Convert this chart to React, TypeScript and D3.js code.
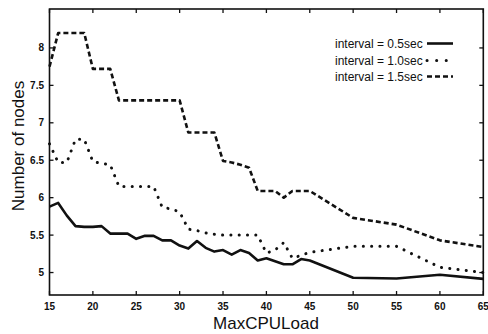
import React from "react";
import * as d3 from "d3";

const maxCpuLoad = [15,16,17,18,19,20,21,22,23,24,25,26,27,28,29,30,31,32,33,34,35,36,37,38,39,40,41,42,43,44,45,50,55,60,65];
const interval05 = [5.88,5.93,5.76,5.62,5.61,5.61,5.62,5.52,5.52,5.52,5.45,5.49,5.49,5.43,5.43,5.36,5.32,5.42,5.33,5.28,5.30,5.24,5.30,5.26,5.16,5.19,5.15,5.11,5.11,5.18,5.16,4.93,4.92,4.97,4.915];
const interval10 = [6.72,6.47,6.47,6.78,6.78,6.48,6.46,6.44,6.15,6.15,6.15,6.15,6.15,5.87,5.85,5.81,5.58,5.56,5.53,5.51,5.50,5.50,5.50,5.50,5.50,5.26,5.30,5.40,5.19,5.23,5.27,5.35,5.35,5.07,5.00];
const interval15 = [7.75,8.20,8.20,8.20,8.20,7.72,7.72,7.72,7.30,7.30,7.30,7.30,7.30,7.30,7.30,7.30,6.87,6.87,6.87,6.87,6.49,6.47,6.44,6.40,6.09,6.09,6.09,6.00,6.09,6.09,6.09,5.73,5.64,5.43,5.34];
const xTicks = [15,20,25,30,35,40,45,50,55,60,65];
const yTicks = [5,5.5,6,6.5,7,7.5,8];
const seriesLabels = ["interval = 0.5sec","interval = 1.0sec","interval = 1.5sec"];

const W = 488, H = 334;
const left = 49.5, right = 483.3, top = 9, bottom = 295;

export default function App() {
  const x = d3.scaleLinear().domain([15, 65]).range([left, right]);
  const y = d3.scaleLinear().domain([4.7, 8.52]).range([bottom, top]);
  const line = d3.line<number>().x((_, i) => x(maxCpuLoad[i])).y((d) => y(d));
  const ink = "#111";
  const styles = [
    { strokeWidth: 2.6, dash: undefined as string | undefined, cap: "butt" },
    { strokeWidth: 3, dash: "0.1 8.2", cap: "round" },
    { strokeWidth: 2.6, dash: "5 3", cap: "butt" },
  ];
  const data = [interval05, interval10, interval15];
  const tickLen = 4;
  return (
    <svg width={W} height={H} style={{ position: "absolute", left: 0, top: 0, background: "#fff" }}
      fontFamily="'Liberation Sans', Arial, sans-serif">
      <rect x={0} y={0} width={W} height={H} fill="#fff" />
      {/* frame */}
      <rect x={left} y={top} width={right - left} height={bottom - top} fill="none" stroke={ink} strokeWidth={1.6} />
      {xTicks.map((t) => (
        <g key={"x" + t}>
          <line x1={x(t)} x2={x(t)} y1={bottom} y2={bottom - tickLen} stroke={ink} strokeWidth={1.3} />
          <line x1={x(t)} x2={x(t)} y1={top} y2={top + tickLen} stroke={ink} strokeWidth={1.3} />
          <text x={x(t)} y={310} textAnchor="middle" fontSize={10} fontWeight="bold" fill={ink}>{t}</text>
        </g>
      ))}
      {yTicks.map((t) => (
        <g key={"y" + t}>
          <line x1={left} x2={left + tickLen} y1={y(t)} y2={y(t)} stroke={ink} strokeWidth={1.3} />
          <line x1={right} x2={right - tickLen} y1={y(t)} y2={y(t)} stroke={ink} strokeWidth={1.3} />
          <text x={44} y={y(t) + 3.5} textAnchor="end" fontSize={10} fontWeight="bold" fill={ink}>{t}</text>
        </g>
      ))}
      {data.map((s, i) => (
        <path key={i} d={line(s) || ""} fill="none" stroke={ink} strokeWidth={styles[i].strokeWidth}
          strokeDasharray={styles[i].dash} strokeLinecap={styles[i].cap as any} strokeLinejoin="round" />
      ))}
      {seriesLabels.map((lab, i) => {
        const by = [48, 65, 81][i];
        const ly = by - 4.5;
        return (
          <g key={lab}>
            <text x={335} y={by} fontSize={12} fill={ink}>{lab}</text>
            <line x1={427} x2={453} y1={ly} y2={ly} stroke={ink} strokeWidth={styles[i].strokeWidth}
              strokeDasharray={i === 1 ? "0.1 9.5" : styles[i].dash} strokeLinecap={styles[i].cap as any} />
          </g>
        );
      })}
      <text transform={`translate(24,146) rotate(-90)`} textAnchor="middle" fontSize={17} fill={ink}>Number of nodes</text>
      <text x={266} y={329} textAnchor="middle" fontSize={17} fill={ink}>MaxCPULoad</text>
    </svg>
  );
}
